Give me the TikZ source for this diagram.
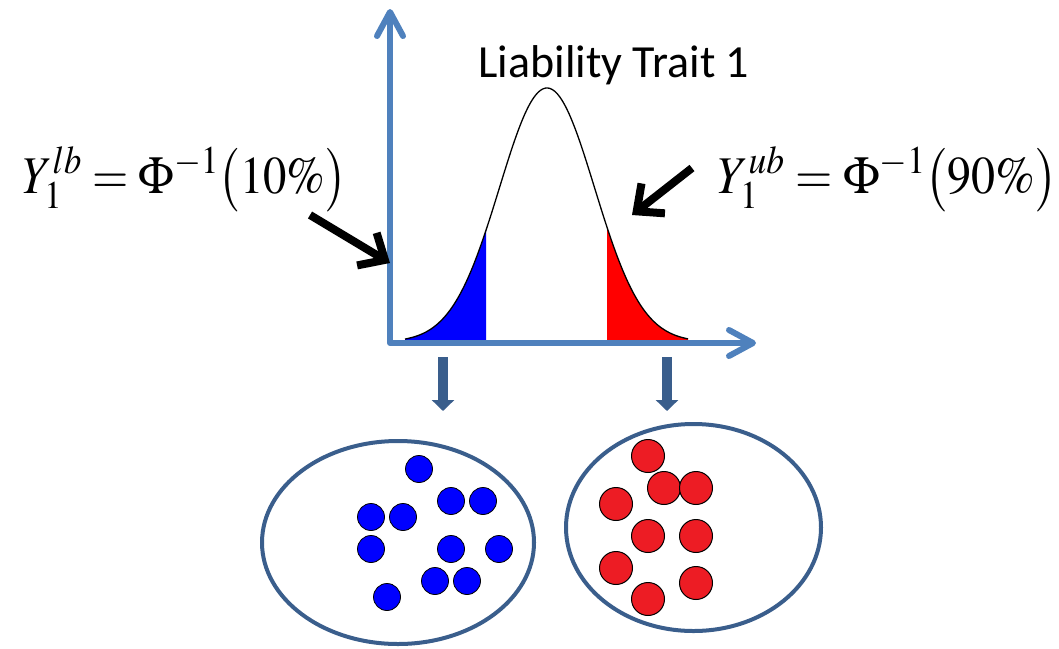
\documentclass[tikz,border=0pt]{standalone}
\usepackage{mathptmx}
\usepackage[no-math]{fontspec}
\setsansfont{Carlito}
\usetikzlibrary{arrows.meta, shapes.geometric}
\definecolor{axisblue}{RGB}{79,129,189}
\definecolor{poolblue}{RGB}{58,94,140}
\definecolor{dotblue}{RGB}{0,0,255}
\definecolor{dotred}{RGB}{237,28,36}
\tikzset{
  axisline/.style={
    line width=6pt,
    draw=axisblue,
    line join=round,
    {Straight Barb[round, length=24pt, width=26pt]}-{Straight Barb[round, length=24pt, width=26pt]},
  },
  pointer/.style={line width=8pt, -{Straight Barb[length=21pt, width=38pt]}},
  droparr/.style={line width=10pt, draw=poolblue, -{Triangle[length=11pt, width=22pt]}},
  pool/.style={ellipse, draw=poolblue, line width=4pt, inner sep=0pt},
  % the two tail groups
  bluedot/.style={circle, draw=black, line width=0.8pt, fill=dotblue, minimum size=27pt, inner sep=0pt},
  reddot/.style={circle, draw=black, line width=1pt, fill=dotred, minimum size=33pt, inner sep=0pt},
  formula/.style={anchor=base west, inner sep=0pt, font=\fontsize{53}{60}\selectfont},
}
\newcommand{\bellY}[1]{342-254*exp(-0.5*((#1-547)/47.6)^2)}

\begin{document}
\begin{tikzpicture}[x=1pt, y=-1pt]
  \useasboundingbox (0,0) rectangle (1059,648);

  % liability density with both tails shaded
  \fill[dotblue] (405,342) -- plot[domain=405:486, samples=40] (\x,{\bellY{\x}}) -- (486,342) -- cycle;
  \fill[red] (607,342) -- plot[domain=607:688, samples=40] (\x,{\bellY{\x}}) -- (688,342) -- cycle;
  \draw[line width=1.3pt] plot[domain=405:688, samples=120, smooth] (\x,{\bellY{\x}});

  \draw[axisline] (390,9) -- (390,343) -- (756,343);

  \node[font=\sffamily\fontsize{46}{50}\selectfont, anchor=base] (title) at (614,77) {Liability Trait 1};

  \node[formula] (lbform) at (23,193) {\scalebox{0.88}[1]{$Y_1^{lb}=\Phi^{-1}\bigl(10\%\bigr)$}};
  \node[formula] (ubform) at (718,193) {\scalebox{0.905}[1]{$Y_1^{ub}=\Phi^{-1}\bigl(90\%\bigr)$}};

  \coordinate (lbtail) at (310,215);
  \coordinate (lbtip) at (390,263);
  \coordinate (ubtail) at (692,168);
  \coordinate (ubtip) at (632,215);
  \draw[pointer] (lbtail) -- (lbtip);
  \draw[pointer] (ubtail) -- (ubtip);

  \coordinate (dropLtop) at (443,357);
  \coordinate (dropLend) at (443,411);
  \coordinate (dropRtop) at (667,357);
  \coordinate (dropRend) at (667,411);
  \draw[droparr] (dropLtop) -- (dropLend);
  \draw[droparr] (dropRtop) -- (dropRend);

  \node[pool, minimum width=272pt, minimum height=203pt] (poolL) at (398,542.5) {};
  \node[pool, minimum width=255pt, minimum height=207pt] (poolR) at (693.5,527.5) {};

  \foreach \px/\py [count=\i] in {419/469, 451/501, 483/501, 371/517, 403/517, 371/549,
                                   451/549, 499/549, 435/581, 467/581, 387/597}
    \node[bluedot] (b\i) at (\px,\py) {};

  \foreach \px/\py [count=\i] in {648/456, 664/488, 696/488, 616/504, 648/536,
                                   696/536, 616/568, 696/583, 648/599}
    \node[reddot] (r\i) at (\px,\py) {};
\end{tikzpicture}
\end{document}
